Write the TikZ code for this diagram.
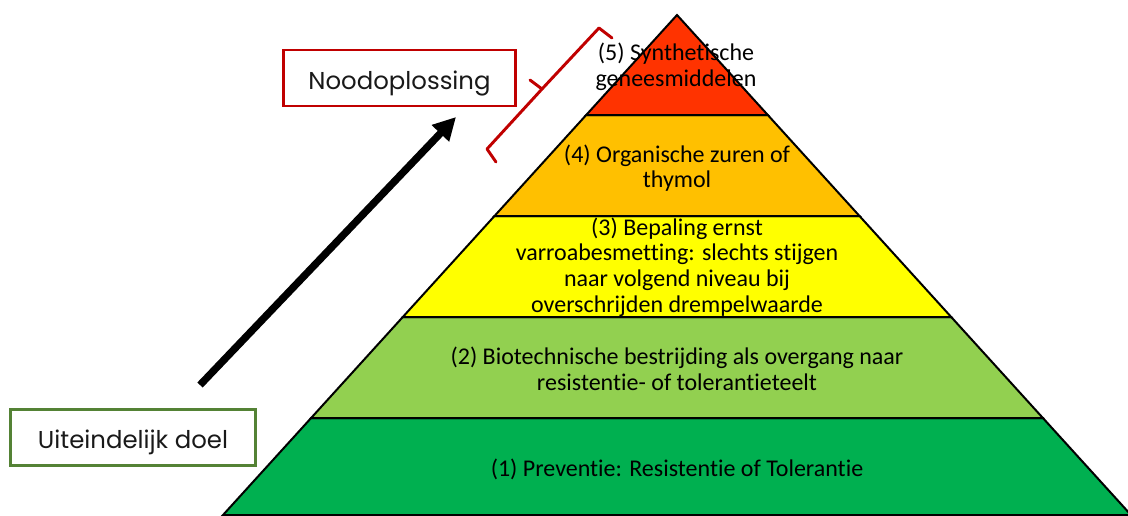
\documentclass[tikz,border=0pt]{standalone}
\usepackage{fontspec}
\setmainfont[RawFeature=-liga]{Carlito}
\newfontfamily\boxfont{Poppins}
\usetikzlibrary{arrows.meta}
\definecolor{lvlA}{HTML}{FF3300}
\definecolor{lvlB}{HTML}{FFC000}
\definecolor{lvlC}{HTML}{FFFF00}
\definecolor{lvlD}{HTML}{92D050}
\definecolor{lvlE}{HTML}{00B050}
\definecolor{redbox}{HTML}{C00000}
\definecolor{greenbox}{HTML}{548235}
\tikzset{
  level/.style={draw=black, line width=1.5pt, line join=miter},
  lvltext/.style={align=center, font=\fontsize{18}{19.2}\selectfont, text=black, inner sep=0pt},
  labelbox/.style={draw=#1, line width=2.2pt, minimum height=42pt, inner sep=0pt, text height=17.5pt, text depth=1pt, font=\boxfont\fontsize{18.3}{20}\selectfont, text=black!90},
  bigarrow/.style={line width=5.5pt, -{Triangle[length=17pt, width=17pt]}},
  bracketline/.style={draw=redbox, line width=2.2pt, line join=round, line cap=round}
}
\begin{document}
\begin{tikzpicture}[x=0.75pt, y=-0.75pt]
\useasboundingbox (0,0) rectangle (1128,515);
\begin{scope}
\clip (0,0) rectangle (1128,515);
% levels (apex 677,15; slope 0.908)
\filldraw[level, fill=lvlE] (311.1,418) -- (1042.9,418) -- (1131,515) -- (223,515) -- cycle;
\filldraw[level, fill=lvlD] (402.8,317) -- (951.2,317) -- (1042.9,418) -- (311.1,418) -- cycle;
\filldraw[level, fill=lvlC] (494.5,216) -- (859.5,216) -- (951.2,317) -- (402.8,317) -- cycle;
\filldraw[level, fill=lvlB] (586.2,115) -- (767.8,115) -- (859.5,216) -- (494.5,216) -- cycle;
\filldraw[level, fill=lvlA] (677,15) -- (767.8,115) -- (586.2,115) -- cycle;
\end{scope}
% level labels
\node[lvltext] (t5) at (676,67) {(5) Synthetische\\geneesmiddelen};
\node[lvltext] (t4) at (677,168) {(4) Organische zuren of\\thymol};
\node[lvltext] (t3) at (677,267) {(3) Bepaling ernst\\varroabesmetting: slechts stijgen\\naar volgend niveau bij\\overschrijden drempelwaarde};
\node[lvltext] (t2) at (677,369) {(2) Biotechnische bestrijding als overgang naar\\resistentie- of tolerantieteelt};
\node[lvltext] (t1) at (677,469) {(1) Preventie: Resistentie of Tolerantie};
% boxes
\node[labelbox=redbox, minimum width=174pt] (nood) at (399.5,78) {Noodoplossing};
\node[labelbox=greenbox, minimum width=184pt] (doel) at (133,437.5) {Uiteindelijk doel};
% arrow
\coordinate (astart) at (200,385);
\coordinate (aend) at (456,117);
\draw[bigarrow] (astart) -- (aend);
% bracket
\coordinate (b1) at (496,162);
\coordinate (b2) at (487,149);
\coordinate (bm) at (542,89);
\coordinate (bt) at (530,80);
\coordinate (b3) at (599,28);
\coordinate (b4) at (612,38);
\draw[bracketline] (b1) -- (b2) -- (bm) -- (b3) -- (b4);
\draw[bracketline] (bm) -- (bt);
\end{tikzpicture}
\end{document}
